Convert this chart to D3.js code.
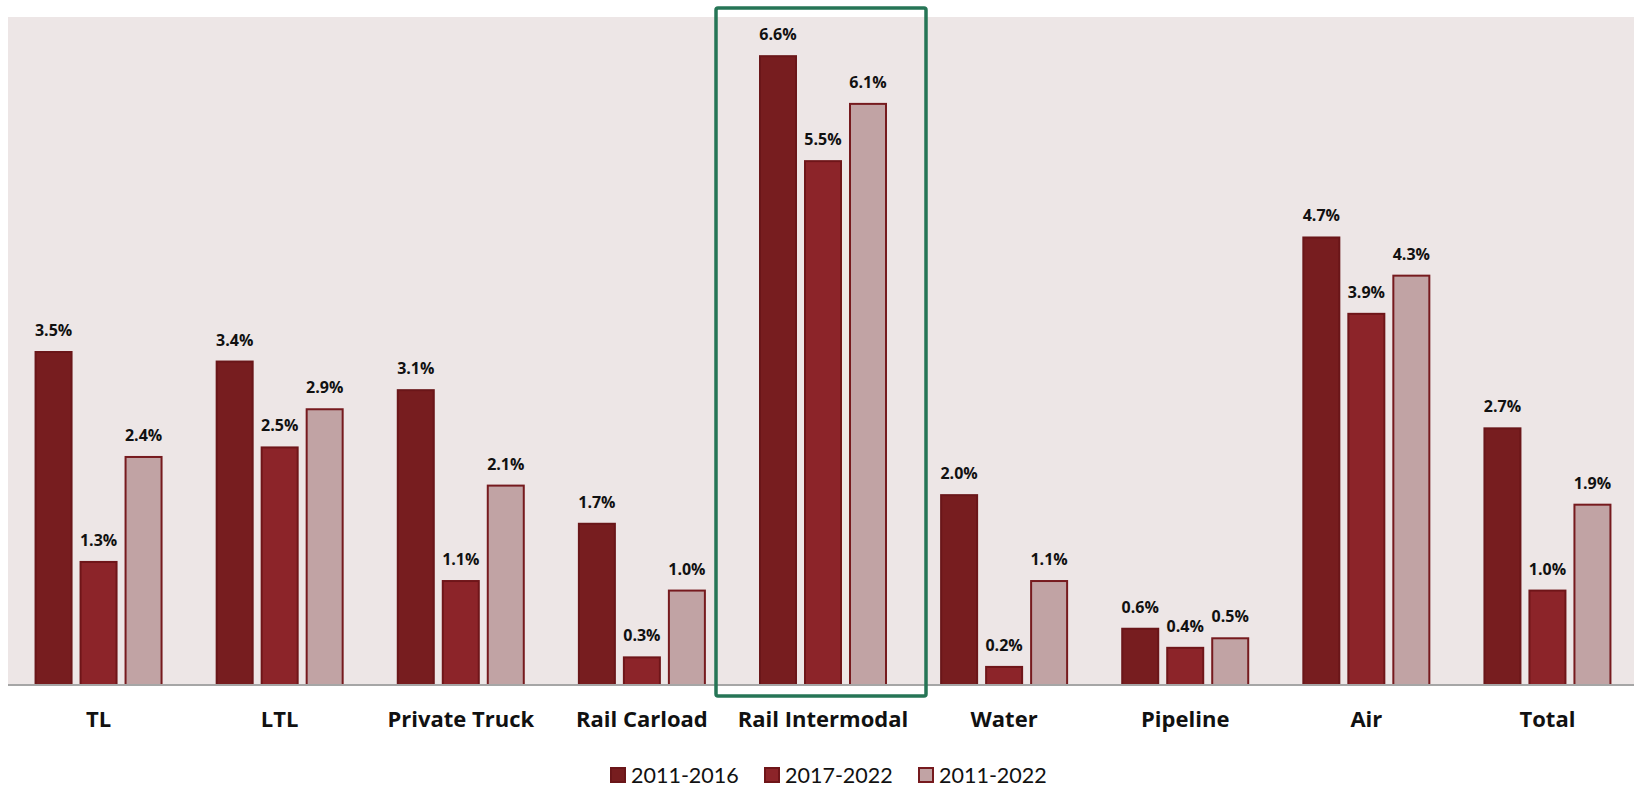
<!DOCTYPE html>
<html>
<head>
<meta charset="utf-8">
<script src="https://cdn.jsdelivr.net/npm/d3@7"></script>
<style>
  html, body { margin: 0; padding: 0; background: #ffffff; }
  svg { display: block; }
</style>
</head>
<body>
<svg id="chart" width="1634" height="788"></svg>
<script>
// Freight mode growth rates (CAGR, %) by period
const categories = ["TL", "LTL", "Private Truck", "Rail Carload", "Rail Intermodal", "Water", "Pipeline", "Air", "Total"];
const seriesNames = ["2011-2016", "2017-2022", "2011-2022"];
const values2011_2016 = [3.5, 3.4, 3.1, 1.7, 6.6, 2.0, 0.6, 4.7, 2.7];
const values2017_2022 = [1.3, 2.5, 1.1, 0.3, 5.5, 0.2, 0.4, 3.9, 1.0];
const values2011_2022 = [2.4, 2.9, 2.1, 1.0, 6.1, 1.1, 0.5, 4.3, 1.9];
const highlighted = "Rail Intermodal";

const seriesValues = [values2011_2016, values2017_2022, values2011_2022];
const fills = ["#771d1f", "#8c2429", "#c1a3a4"];
const strokes = ["#6a1619", "#6f1519", "#761a1e"];

const labelFont = "'Open Sans', sans-serif";
const legendFont = "Lato, sans-serif";

const svg = d3.select("#chart");
const plot = { left: 8, right: 1638, top: 17, bottom: 685 };

const x = d3.scaleBand().domain(categories).range([plot.left, plot.right]).paddingInner(0).paddingOuter(0);
const barW = 38, barGap = 7;
const xs = d3.scaleBand().domain(seriesNames).range([0, 3 * barW + 2 * barGap]).paddingInner(barGap / (barW + barGap)).paddingOuter(0);
const groupW = 3 * barW + 2 * barGap;
const y = d3.scaleLinear().domain([0, 7]).range([plot.bottom, plot.top]);

// plot background
svg.append("rect")
  .attr("x", plot.left).attr("y", plot.top)
  .attr("width", 1634 - plot.left).attr("height", plot.bottom - plot.top)
  .attr("fill", "#ede6e6");

const rows = categories.map((c, i) => ({ category: c, vals: seriesValues.map(s => s[i]) }));

const groups = svg.append("g").selectAll("g")
  .data(rows).join("g")
  .attr("transform", d => `translate(${x(d.category) + (x.bandwidth() - groupW) / 2},0)`);

groups.selectAll("rect")
  .data(d => d.vals.map((v, k) => ({ v, k })))
  .join("rect")
  .attr("x", d => xs(seriesNames[d.k]) + 1)
  .attr("y", d => y(d.v) + 1)
  .attr("width", xs.bandwidth() - 2)
  .attr("height", d => y(0) - y(d.v) - 1)
  .attr("fill", d => fills[d.k])
  .attr("stroke", d => strokes[d.k])
  .attr("stroke-width", 2);

groups.selectAll("text")
  .data(d => d.vals.map((v, k) => ({ v, k })))
  .join("text")
  .attr("x", d => xs(seriesNames[d.k]) + xs.bandwidth() / 2)
  .attr("y", d => y(d.v) - 15)
  .attr("text-anchor", "middle")
  .style("font-family", labelFont)
  .style("font-size", "16px")
  .style("font-weight", 700)
  .attr("fill", "#111111")
  .text(d => d.v.toFixed(1) + "%");

// category axis
const xAxis = d3.axisBottom(x).tickSize(0).tickPadding(0);
const axisG = svg.append("g").attr("transform", `translate(0,${plot.bottom})`).call(xAxis);
axisG.select(".domain").attr("stroke", "#a6a6a6").attr("stroke-width", 2)
  .attr("d", `M${plot.left},0H1634`);
axisG.selectAll(".tick text")
  .attr("dy", 0).attr("y", 42)
  .style("font-family", labelFont)
  .style("font-size", "22px")
  .style("font-weight", 700)
  .attr("fill", "#111111");

// highlight frame around one category
svg.append("rect")
  .attr("x", x(highlighted) + (x.bandwidth() - groupW) / 2 - 43)
  .attr("y", 8)
  .attr("width", groupW + 82)
  .attr("height", 688)
  .attr("rx", 2)
  .attr("fill", "none")
  .attr("stroke", "#267556")
  .attr("stroke-width", 3.5);

// legend
const legendX = [610, 764, 918];
const legend = svg.append("g").selectAll("g")
  .data(seriesNames).join("g")
  .attr("transform", (d, i) => `translate(${legendX[i]},767)`);
legend.append("rect")
  .attr("x", 1).attr("y", 1).attr("width", 14).attr("height", 14)
  .attr("fill", (d, i) => fills[i])
  .attr("stroke", (d, i) => strokes[i]).attr("stroke-width", 2);
legend.append("text")
  .attr("x", 21).attr("y", 15.5)
  .style("font-family", legendFont)
  .style("font-size", "21.5px")
  .attr("fill", "#111111")
  .text(d => d);
</script>
</body>
</html>
